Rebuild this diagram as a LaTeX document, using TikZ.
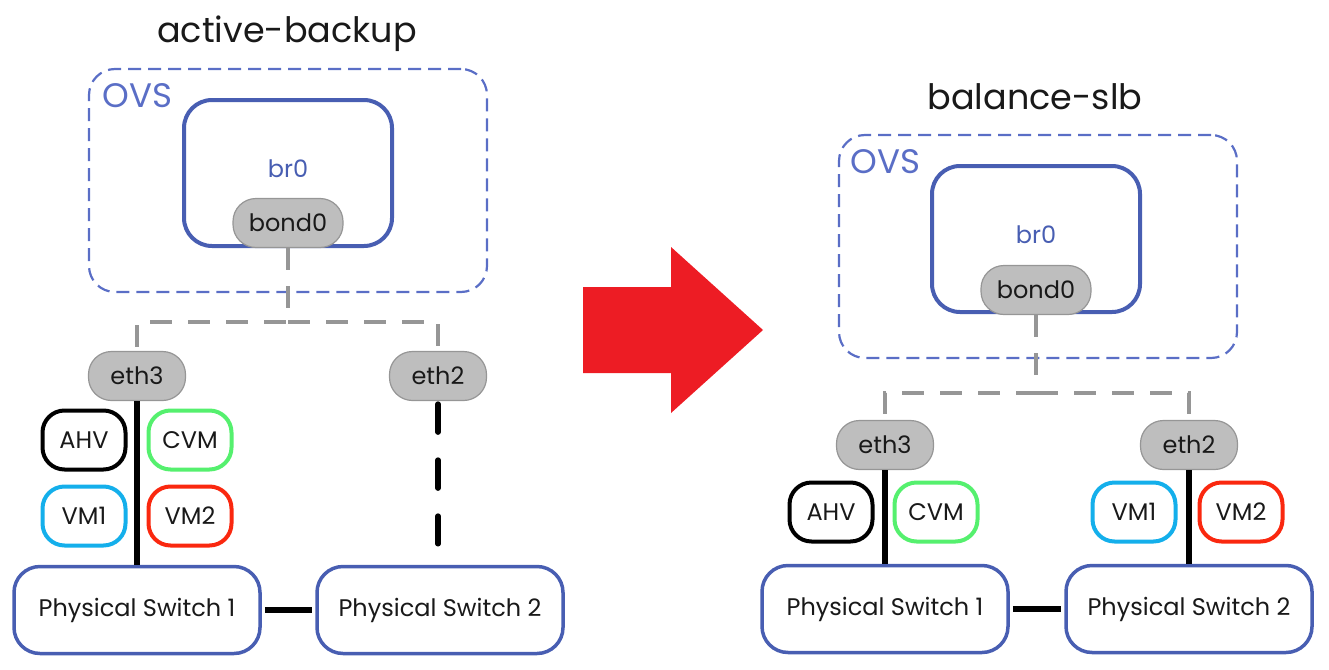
\documentclass[tikz,border=0pt]{standalone}
\usepackage{fontspec}
\setmainfont{Poppins}
\usetikzlibrary{calc}
\definecolor{ovsblue}{RGB}{90,110,198}
\definecolor{brblue}{RGB}{72,94,178}
\definecolor{pillgray}{RGB}{190,190,190}
\definecolor{pilledge}{RGB}{150,150,150}
\definecolor{linkgray}{RGB}{150,150,150}
\definecolor{cvmgreen}{RGB}{85,240,110}
\definecolor{vmcyan}{RGB}{20,175,235}
\definecolor{vmred}{RGB}{250,40,15}
\definecolor{arrowred}{RGB}{237,28,36}
\definecolor{ink}{RGB}{25,25,25}

\begin{document}
\begin{tikzpicture}[x=1pt,y=-1pt,
	title/.style={anchor=base,text=ink,font=\fontsize{35}{40}\selectfont},
	ovsbox/.style={draw=ovsblue,line width=2.2pt,dash pattern=on 13pt off 7pt,rounded corners=26pt,minimum width=398pt,minimum height=223pt},
	ovstext/.style={anchor=base west,text=ovsblue,font=\fontsize{34}{38}\selectfont},
	bridge/.style={draw=brblue,line width=4pt,rounded corners=28pt,minimum width=208pt,minimum height=146pt,
		label={[text=brblue,font=\fontsize{24}{28}\selectfont,yshift=4pt]center:br0}},
	pill/.style={draw=pilledge,fill=pillgray,line width=1.2pt,rounded corners=23pt,minimum height=49pt,text=ink,font=\fontsize{24}{28}\selectfont},
	vmbox/.style={fill=white,line width=4pt,rounded corners=22pt,minimum width=83pt,minimum height=59pt,text=ink,font=\fontsize{24}{28}\selectfont},
	switch/.style={draw=brblue,fill=white,line width=3.5pt,rounded corners=26pt,minimum width=246pt,minimum height=87pt,text=ink,font=\fontsize{24}{28}\selectfont},
	link/.style={linkgray,line width=4.5pt,dash pattern=on 22pt off 16pt},
	wire/.style={black,line width=5.5pt}]
	\useasboundingbox (0,0) rectangle (1329,669);

	% active-backup
	\node[title](tL)at(287,43) {active-backup};
	\node[ovsbox](ovsL)at(288,180.5) {};
	\node[ovstext](ovsLt)at(99,107) {OVS};
	\node[bridge](brL)at(288,173) {};
	\node[pill,minimum width=110pt](bondL)at(288,223) {bond0};
	\coordinate (jL) at (288,322);
	\node[pill,minimum width=97pt](eth3L)at(137,376) {eth3};
	\node[pill,minimum width=97pt](eth2L)at(438,376) {eth2};
	\node[vmbox,draw=black](ahvL)at(84,440) {AHV};
	\node[vmbox,draw=cvmgreen](cvmL)at(190,440) {CVM};
	\node[vmbox,draw=vmcyan](vm1L)at(84,516) {VM1};
	\node[vmbox,draw=vmred](vm2L)at(190,516) {VM2};
	\node[switch](ps1L)at(137,610) {Physical Switch 1};
	\node[switch](ps2L)at(440,610) {Physical Switch 2};

	\draw[link](bondL) -- (jL) -| (eth3L);
	\draw[link](jL) -| (eth2L);
	\draw[wire](eth3L) -- (ps1L);
	\draw[wire,dash pattern=on 28pt off 28pt,line cap=round,shorten <=3pt,shorten >=21pt](eth2L) -- (eth2L|-ps2L.north);
	\draw[wire,shorten <=3pt,shorten >=3pt](ps1L) -- (ps2L);

	% arrow
	\fill[arrowred] (583,287) -- (671,287) -- (671,247) -- (763,330) -- (671,413) -- (671,373) -- (583,373) -- cycle;

	% balance-slb
	\node[title](tR)at(1035,109) {balance-slb};
	\node[ovsbox](ovsR)at(1038,246.5) {};
	\node[ovstext](ovsRt)at(847,173) {OVS};
	\node[bridge](brR)at(1036,239) {};
	\node[pill,minimum width=110pt](bondR)at(1036,290) {bond0};
	\coordinate (jR) at (1036,393);
	\node[pill,minimum width=97pt](eth3R)at(885,445) {eth3};
	\node[pill,minimum width=97pt](eth2R)at(1189,445) {eth2};
	\node[vmbox,draw=black](ahvR)at(831,512) {AHV};
	\node[vmbox,draw=cvmgreen](cvmR)at(936,512) {CVM};
	\node[vmbox,draw=vmcyan](vm1R)at(1134,512) {VM1};
	\node[vmbox,draw=vmred](vm2R)at(1241,512) {VM2};
	\node[switch](ps1R)at(885,609) {Physical Switch 1};
	\node[switch](ps2R)at(1189,609) {Physical Switch 2};

	\draw[link](bondR) -- (jR) -| (eth3R);
	\draw[link](jR) -| (eth2R);
	\draw[wire](eth3R) -- (ps1R);
	\draw[wire](eth2R) -- (ps2R);
	\draw[wire,shorten <=3pt,shorten >=3pt](ps1R) -- (ps2R);
\end{tikzpicture}
\end{document}
